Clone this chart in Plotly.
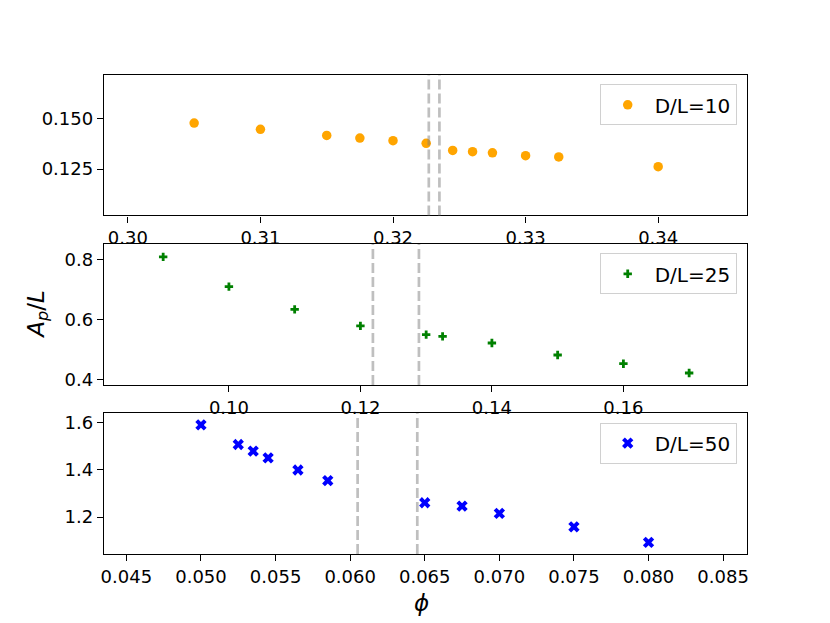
"""A_p/L against phi for three D/L ratios, three stacked panels."""

import plotly.graph_objects as go

_FONT = "DejaVu Sans"

# ── data ──────────────────────────────────────────────────────────────────────
phi_10 = [0.305, 0.31, 0.315, 0.3175, 0.32, 0.3225, 0.3245, 0.326, 0.3275, 0.33, 0.3325, 0.34]
ap_10 = [0.1477, 0.1446, 0.1416, 0.1403, 0.1390, 0.1377, 0.1342, 0.1336, 0.1330, 0.1316, 0.1310, 0.1262]

phi_25 = [0.09, 0.10, 0.11, 0.12, 0.13, 0.1325, 0.14, 0.15, 0.16, 0.17]
ap_25 = [0.808, 0.709, 0.633, 0.578, 0.549, 0.543, 0.521, 0.481, 0.452, 0.421]

phi_50 = [0.05, 0.0525, 0.0535, 0.0545, 0.0565, 0.0585, 0.065, 0.0675, 0.07, 0.075, 0.08]
ap_50 = [1.591, 1.508, 1.480, 1.451, 1.400, 1.355, 1.261, 1.247, 1.216, 1.159, 1.093]

# dashed transition bounds per panel
bounds_10 = [0.3227, 0.3235]
bounds_25 = [0.1219, 0.1289]
bounds_50 = [0.0605, 0.0645]

labels = ["D/L=10", "D/L=25", "D/L=50"]

# axis limits and ticks
xlim = [[0.2982, 0.3467], [0.0810, 0.1788], [0.0435, 0.0866]]
ylim = [[0.1021, 0.1714], [0.381, 0.851], [1.044, 1.640]]
xticks = [
    [0.30, 0.31, 0.32, 0.33, 0.34],
    [0.10, 0.12, 0.14, 0.16],
    [0.045, 0.050, 0.055, 0.060, 0.065, 0.070, 0.075, 0.080, 0.085],
]
xfmt = [".2f", ".2f", ".3f"]
yticks = [[0.125, 0.150], [0.4, 0.6, 0.8], [1.2, 1.4, 1.6]]
yfmt = [".3f", ".1f", ".1f"]

# panel domains (top → bottom), matplotlib-like spacing
_DOMAINS = [[0.7067, 1.0], [0.3528, 0.6472], [0.0, 0.2937]]
_LEGEND_Y = [0.9806, 0.6278, 0.2743]

fig = go.Figure()

series = [
    (phi_10, ap_10, "circle", 9.5, "orange"),
    (phi_25, ap_25, "cross", 7, "green"),
    (phi_50, ap_50, "x", 10, "blue"),
]
for i, (xs, ys, sym, size, color) in enumerate(series):
    n = "" if i == 0 else str(i + 1)
    fig.add_trace(go.Scatter(
        x=xs, y=ys, mode="markers", name=labels[i],
        marker=dict(symbol=sym, size=size, color=color, line=dict(width=0)),
        xaxis=f"x{n}", yaxis=f"y{n}",
        legend=f"legend{n}",
    ))

shapes = []
for i, bounds in enumerate([bounds_10, bounds_25, bounds_50]):
    n = "" if i == 0 else str(i + 1)
    for b in bounds:
        shapes.append(dict(
            type="line", xref=f"x{n}", yref=f"y{n} domain",
            x0=b, x1=b, y0=0, y1=1,
            line=dict(color="rgba(128,128,128,0.5)", width=2.7, dash="10px,4px"),
        ))

# page body adds 8px, so margins are pulled in by that much
layout = dict(
    width=830, height=623,
    margin=dict(l=96, r=91, t=67, b=77),
    paper_bgcolor="white", plot_bgcolor="white",
    font=dict(family=_FONT, size=18, color="black"),
    showlegend=True,
    shapes=shapes,
)

for i in range(3):
    n = "" if i == 0 else str(i + 1)
    axis_common = dict(
        showline=True, mirror=True, linecolor="black", linewidth=1.4,
        ticks="outside", ticklen=6, tickwidth=1.4, tickcolor="black",
        showgrid=False, zeroline=False,
        tickfont=dict(family=_FONT, size=18, color="black"),
    )
    layout[f"xaxis{n}"] = dict(
        axis_common, domain=[0, 1], range=xlim[i], anchor=f"y{n}",
        tickmode="array", tickvals=xticks[i], tickformat=xfmt[i],
    )
    layout[f"yaxis{n}"] = dict(
        axis_common, domain=_DOMAINS[i], range=ylim[i], anchor=f"x{n}",
        tickmode="array", tickvals=yticks[i], tickformat=yfmt[i],
    )
    layout[f"legend{n}"] = dict(
        x=0.984, y=_LEGEND_Y[i], xanchor="right", yanchor="top",
        bgcolor="rgba(255,255,255,0.8)", bordercolor="#d0d0d0", borderwidth=1,
        itemwidth=44,
        font=dict(family=_FONT, size=20, color="black"),
    )

layout["annotations"] = [
    dict(
        text="<i>A</i><sub><i>p</i></sub>/<i>L</i>", xref="paper", yref="paper",
        x=-0.104, y=0.5, xanchor="center", yanchor="middle",
        textangle=-90, showarrow=False,
        font=dict(family=_FONT, size=23, color="black"),
    ),
    dict(
        text="<i>ϕ</i>", xref="paper", yref="paper",
        x=0.494, y=-0.1017, xanchor="center", yanchor="middle",
        showarrow=False,
        font=dict(family=_FONT, size=23, color="black"),
    ),
]

fig.update_layout(**layout)
fig.write_html("out.html")
